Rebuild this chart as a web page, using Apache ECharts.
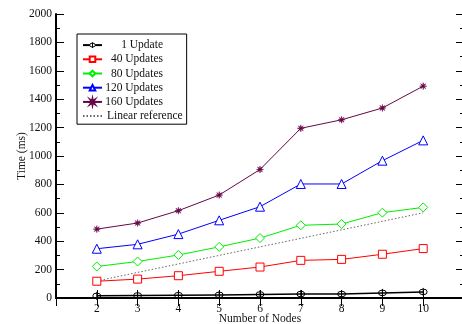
<!DOCTYPE html>
<html><head><meta charset="utf-8">
<script src="https://cdn.jsdelivr.net/npm/echarts@6/dist/echarts.min.js"></script>
<style>html,body{margin:0;padding:0;background:#fff}#c{width:462px;height:324px}</style>
</head><body><div id="c"></div>
<script>
const nodes = [2, 3, 4, 5, 6, 7, 8, 9, 10];
const update1 = [15, 18, 20, 22, 25, 28, 28, 36, 43];
const update40 = [118, 133, 157, 188, 218, 265, 272, 308, 348];
const update80 = [222, 257, 303, 360, 422, 512, 521, 601, 638];
const update120 = [347, 378, 450, 547, 643, 803, 803, 967, 1110];
const update160 = [485, 528, 615, 725, 905, 1195, 1255, 1338, 1492];
const linearRef = [120, 180, 240, 300, 360, 420, 480, 540, 600];
const yTicks = [0, 200, 400, 600, 800, 1000, 1200, 1400, 1600, 1800, 2000];

function pairs(v) { return nodes.map((n, i) => [n, v[i]]); }

function starPath() {
  let pts = [];
  for (let k = 0; k < 16; k++) {
    const a = k * Math.PI / 8 - Math.PI / 2;
    const r = (k % 2 === 0) ? 10 : 3.5;
    pts.push((10 + r * Math.cos(a)).toFixed(2) + ',' + (10 + r * Math.sin(a)).toFixed(2));
  }
  return 'path://M' + pts.join(' L') + ' Z';
}
const circleBar = 'path://M10,0 L10,20 M3,10 A7,7 0 1,0 17,10 A7,7 0 1,0 3,10 Z';

const font = 'Liberation Serif';
const fs = 11.5;
const chart = echarts.init(document.getElementById('c'), null, { renderer: 'canvas' });

function mk(name, data, color, symbol, size, extra) {
  return Object.assign({
    name, type: 'line', data: pairs(data), symbol, symbolSize: size,
    lineStyle: { color, width: 1 },
    itemStyle: { color: '#fff', borderColor: color, borderWidth: 1 },
    emphasis: { disabled: true }, animation: false, z: 3
  }, extra || {});
}

chart.setOption({
  backgroundColor: '#fff',
  animation: false,
  grid: { left: 56, top: 14, width: 408, height: 284, containLabel: false, outerBoundsMode: 'none' },
  legend: {
    left: 77, top: 34, orient: 'vertical',
    backgroundColor: '#fff', borderColor: '#000', borderWidth: 1, borderRadius: 0,
    padding: [4, 4, 1, 5],
    itemWidth: 19, itemHeight: 7, itemGap: 0,
    textStyle: { fontFamily: font, fontSize: fs, color: '#111', lineHeight: 14.2,
      rich: {
        r: { width: 56, align: 'right', fontFamily: font, fontSize: fs, color: '#111', lineHeight: 14.2 },
        l: { align: 'left', fontFamily: font, fontSize: fs, color: '#111', lineHeight: 14.2 }
      } },
    formatter: function (n) { return n === 'Linear reference' ? '{l|' + n + '}' : '{r|' + n + '}'; },
    data: [{ name: '1 Update', itemStyle: { color: '#fff', borderColor: '#000', borderWidth: 1 } },
      '40 Updates', '80 Updates', '120 Updates', '160 Updates',
      { name: 'Linear reference', itemStyle: { opacity: 0 } }]
  },
  xAxis: [
    {
      type: 'value', min: 1, max: 11, interval: 1,
      name: 'Number of Nodes', nameLocation: 'middle', nameGap: 15, nameMoveOverlap: false,
      nameTextStyle: { fontFamily: font, fontSize: fs, color: '#111' },
      axisLine: { show: true, lineStyle: { color: '#000', width: 2 } },
      axisTick: { show: true, inside: true, length: 8, lineStyle: { color: '#000', width: 1 } },
      axisLabel: { fontFamily: font, fontSize: fs, color: '#111', margin: 5,
        formatter: v => (nodes.indexOf(v) >= 0 ? String(v) : '') },
      splitLine: { show: false }
    },
    {
      type: 'value', min: 1, max: 11, interval: 1, position: 'top',
      axisLine: { show: true, lineStyle: { color: '#000', width: 2 } },
      axisTick: { show: true, inside: true, length: 8, lineStyle: { color: '#000', width: 1 } },
      axisLabel: { show: false }, splitLine: { show: false }
    }
  ],
  yAxis: [
    {
      type: 'value', min: 0, max: 2000, interval: 200,
      name: 'Time (ms)', nameLocation: 'middle', nameGap: 28, nameMoveOverlap: false,
      nameTextStyle: { fontFamily: font, fontSize: fs, color: '#111' },
      axisLine: { show: true, lineStyle: { color: '#000', width: 2 } },
      axisTick: { show: true, inside: true, length: 8, lineStyle: { color: '#000', width: 1 } },
      minorTick: { show: true, splitNumber: 2, length: 4, lineStyle: { color: '#000', width: 1 } },
      axisLabel: { fontFamily: font, fontSize: fs, color: '#111', margin: 4,
        formatter: v => (yTicks.indexOf(v) >= 0 ? String(v) : '') },
      splitLine: { show: false }
    },
    {
      type: 'value', min: 0, max: 2000, interval: 200, position: 'right',
      axisLine: { show: true, lineStyle: { color: '#000', width: 2 } },
      axisTick: { show: true, inside: true, length: 8, lineStyle: { color: '#000', width: 1 } },
      minorTick: { show: true, splitNumber: 2, length: 4, lineStyle: { color: '#000', width: 1 } },
      axisLabel: { show: false }, splitLine: { show: false }
    }
  ],
  series: [
    mk('1 Update', update1, '#000000', circleBar, 8, { itemStyle: { color: 'rgba(255,255,255,0)', borderColor: '#000', borderWidth: 1 }, lineStyle: { color: '#000', width: 1.5 } }),
    mk('40 Updates', update40, '#ff0000', 'rect', 8),
    mk('80 Updates', update80, '#00ee00', 'diamond', 9),
    mk('120 Updates', update120, '#0000ff', 'triangle', 9),
    mk('160 Updates', update160, '#670748', starPath(), 7, { itemStyle: { color: '#670748', borderColor: '#670748', borderWidth: 0.5 } }),
    { name: 'Linear reference', type: 'line', data: pairs(linearRef), symbol: 'none', showSymbol: false,
      lineStyle: { color: '#666', width: 1, type: [1.5, 2] }, itemStyle: { color: '#666' }, z: 2, animation: false }
  ]
});
</script></body></html>
